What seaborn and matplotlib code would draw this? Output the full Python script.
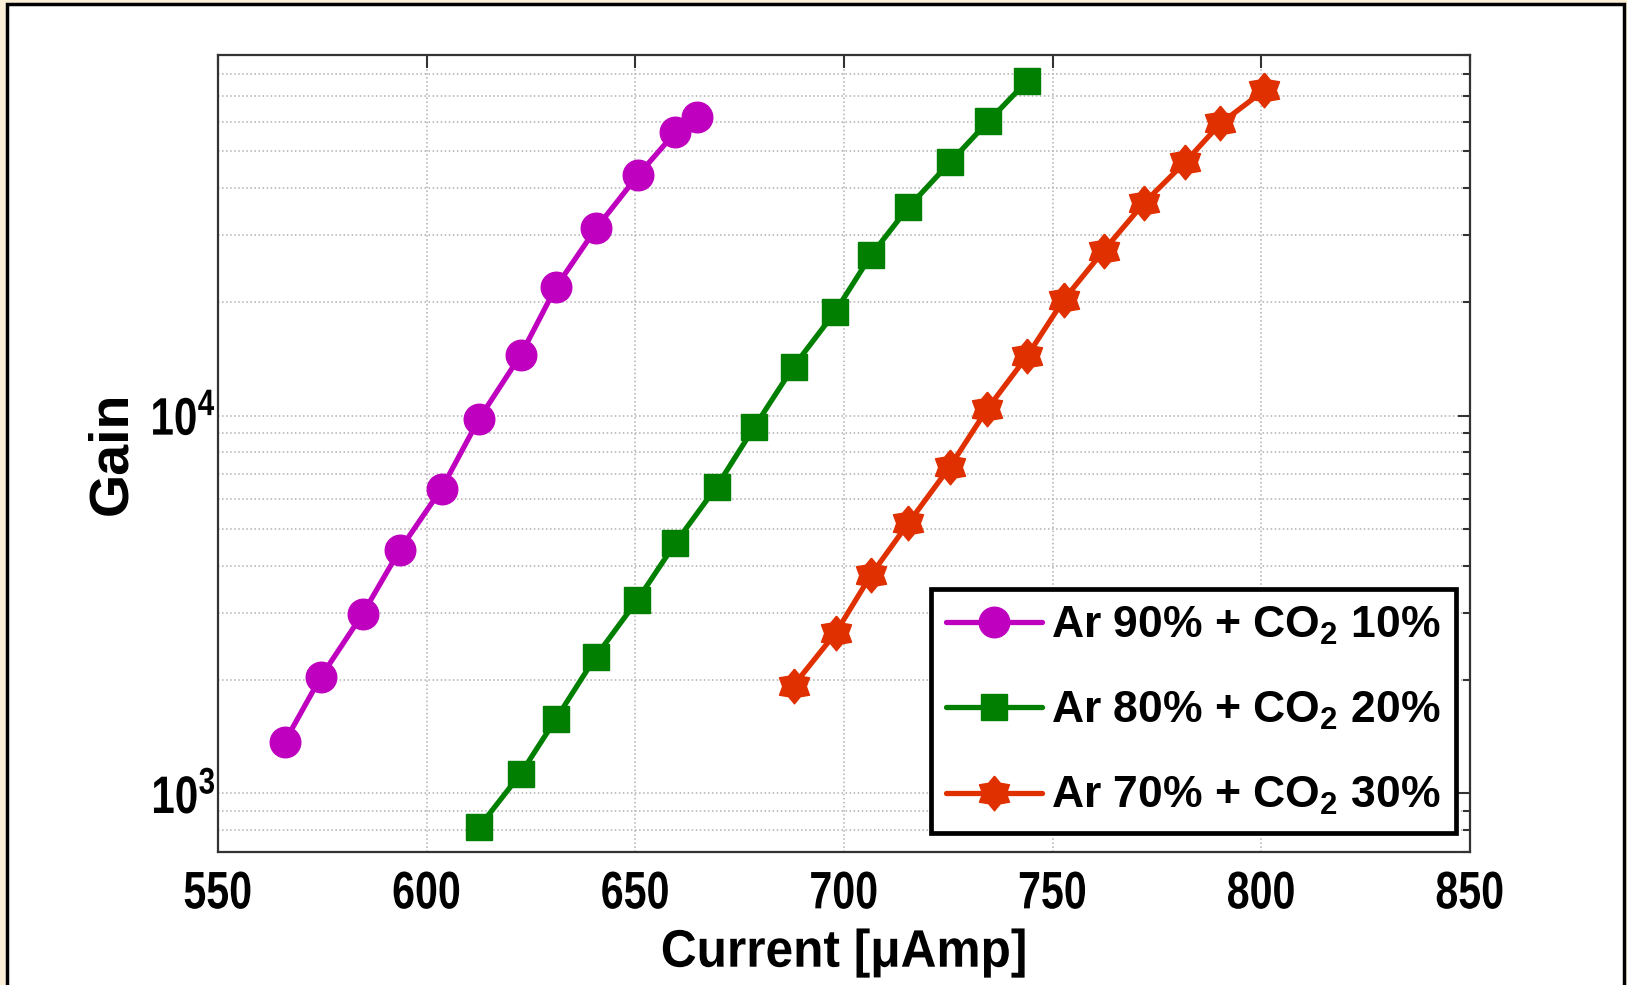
import numpy as np
import pandas as pd
import matplotlib
matplotlib.use("Agg")
import matplotlib.pyplot as plt
import seaborn as sns
from matplotlib.patches import Rectangle
from matplotlib import font_manager as fm
from matplotlib.ticker import FixedLocator, LogLocator, NullFormatter
from matplotlib.patheffects import AbstractPathEffect
from matplotlib.transforms import Affine2D

# ---------------- data ----------------
current_90 = [566.0, 574.6, 584.7, 593.6, 603.6, 612.5, 622.6, 631.0, 640.6, 650.6, 659.6, 664.7]
gain_90 = [1370, 2030, 2990, 4420, 6410, 9780, 14500, 21900, 31300, 43200, 56200, 61700]

current_80 = [612.6, 622.5, 631.0, 640.5, 650.5, 659.6, 669.5, 678.5, 687.9, 697.8, 706.5,
              715.4, 725.5, 734.6, 743.9]
gain_80 = [816, 1127, 1576, 2302, 3250, 4600, 6490, 9320, 13480, 18760, 26590, 35560,
           46930, 60120, 76850]

current_70 = [687.9, 698.0, 706.5, 715.4, 725.4, 734.3, 743.9, 752.6, 762.2, 771.9, 781.8,
              790.2, 800.7]
gain_70 = [1930, 2660, 3790, 5190, 7330, 10400, 14380, 20220, 27310, 36560, 46930, 59290, 72600]

series_labels = ["Ar 90% + CO$_{2}$ 10%", "Ar 80% + CO$_{2}$ 20%", "Ar 70% + CO$_{2}$ 30%"]
xticks = [550, 600, 650, 700, 750, 800, 850]
yticks = [1e3, 1e4]
ytick_labels = ["$10^{3}$", "$10^{4}$"]
x_label = "Current [\u03bcAmp]"
y_label = "Gain"


class Condense(AbstractPathEffect):
    """Horizontally squeeze text glyphs (emulates a narrow font)."""

    def __init__(self, sx, anchor="center"):
        super().__init__()
        self.sx = sx
        self.anchor = anchor

    def draw_path(self, renderer, gc, tpath, affine, rgbFace=None):
        v = affine.transform(tpath.vertices)
        if len(v):
            if self.anchor == "right":
                cx = v[:, 0].max()
            else:
                cx = 0.5 * (v[:, 0].min() + v[:, 0].max())
        else:
            cx = 0.0
        aff = affine + Affine2D().translate(-cx, 0).scale(self.sx, 1).translate(cx, 0)
        renderer.draw_path(gc, tpath, aff, rgbFace)


# ---------------- style ----------------
sns.set_style("white")
names = {f.name for f in fm.fontManager.ttflist}
base_font = "Liberation Sans" if "Liberation Sans" in names else "DejaVu Sans"
plt.rcParams["font.family"] = [base_font, "DejaVu Sans"]
plt.rcParams["font.weight"] = "bold"
plt.rcParams["text.color"] = "black"
plt.rcParams["axes.labelcolor"] = "black"
plt.rcParams["mathtext.fontset"] = "custom"
plt.rcParams["mathtext.rm"] = base_font + ":bold"
plt.rcParams["mathtext.bf"] = base_font + ":bold"
plt.rcParams["mathtext.it"] = base_font + ":bold"
plt.rcParams["mathtext.default"] = "bf"

# hexagram marker
ang_out = np.deg2rad(90 + np.arange(6) * 60)
ang_in = np.deg2rad(120 + np.arange(6) * 60)
r_in = 0.68
hexagram = []
for a_o, a_i in zip(ang_out, ang_in):
    hexagram.append((np.cos(a_o), np.sin(a_o)))
    hexagram.append((r_in * np.cos(a_i), r_in * np.sin(a_i)))
hexagram.append(hexagram[0])

W, H = 1627, 985
fig = plt.figure(figsize=(W / 100, H / 100), dpi=100)
fig.patch.set_facecolor("#FCEFD8")
fig.patches.append(Rectangle((7 / W, -0.05), (1624 - 7) / W, 1.05 - 4 / H,
                             transform=fig.transFigure, facecolor="white",
                             edgecolor="black", linewidth=2.5, zorder=-10))

ax = fig.add_axes([218 / W, (H - 852) / H, 1252 / W, 797 / H])
ax.set_zorder(5)
ax.set_facecolor("white")

series = [
    (current_90, gain_90, series_labels[0], "#BF00BF", "o", 22),
    (current_80, gain_80, series_labels[1], "#007F00", "s", 19),
    (current_70, gain_70, series_labels[2], "#E03000", hexagram, 25),
]
for xs, ys, lab, col, mk, ms in series:
    df = pd.DataFrame({"current": xs, "gain": ys})
    sns.lineplot(data=df, x="current", y="gain", ax=ax, color=col, lw=3.8,
                 marker=mk, ms=ms, mec=col, mfc=col, mew=1, label=lab,
                 sort=False, estimator=None, zorder=3)

ax.set_yscale("log")
ax.set_xlim(550, 850)
ax.set_ylim(700, 9e4)
ax.set_xticks(xticks)
ax.set_xticklabels([str(t) for t in xticks])
ax.yaxis.set_major_locator(FixedLocator(yticks))
ax.set_yticklabels(ytick_labels)
ax.yaxis.set_minor_locator(LogLocator(base=10, subs=np.arange(2, 10)))
ax.yaxis.set_minor_formatter(NullFormatter())
ax.xaxis.set_minor_locator(FixedLocator([]))

for lab in ax.get_xticklabels():
    lab.set_fontsize(38)
    lab.set_fontweight("bold")
    lab.set_path_effects([Condense(0.78, "center")])
for lab in ax.get_yticklabels():
    lab.set_fontsize(38)
    lab.set_fontweight("bold")
    lab.set_path_effects([Condense(0.8, "right")])

ax.tick_params(which="both", direction="in", top=True, right=True,
               width=1.5, color="#333333", labelcolor="black")
ax.tick_params(which="major", length=9)
ax.tick_params(which="minor", length=5)
ax.tick_params(axis="x", which="major", pad=12.5)
ax.tick_params(axis="y", which="major", pad=1.5)

ax.grid(which="major", axis="both", ls=":", color="#b0b0b0", lw=1.1)
ax.grid(which="minor", axis="y", ls=":", color="#b0b0b0", lw=1.1)
ax.set_axisbelow(True)
for sp in ax.spines.values():
    sp.set_color("#333333")
    sp.set_linewidth(1.6)
    sp.set_visible(True)

xl = ax.set_xlabel(x_label, fontsize=38, fontweight="bold", labelpad=6)
xl.set_path_effects([Condense(0.94, "center")])
ax.set_ylabel(y_label, fontsize=40, fontweight="bold", labelpad=-3)

leg = ax.legend(loc="lower right", bbox_to_anchor=(1 - 14 / 1252, 19 / 797),
                borderaxespad=0, frameon=True, fancybox=False, edgecolor="black",
                framealpha=1, fontsize=32, handlelength=2.15, handletextpad=0.2,
                borderpad=0.35, labelspacing=0.97)
leg.get_frame().set_linewidth(3.4)

fig.savefig("out.png", dpi=100, facecolor=fig.get_facecolor())
